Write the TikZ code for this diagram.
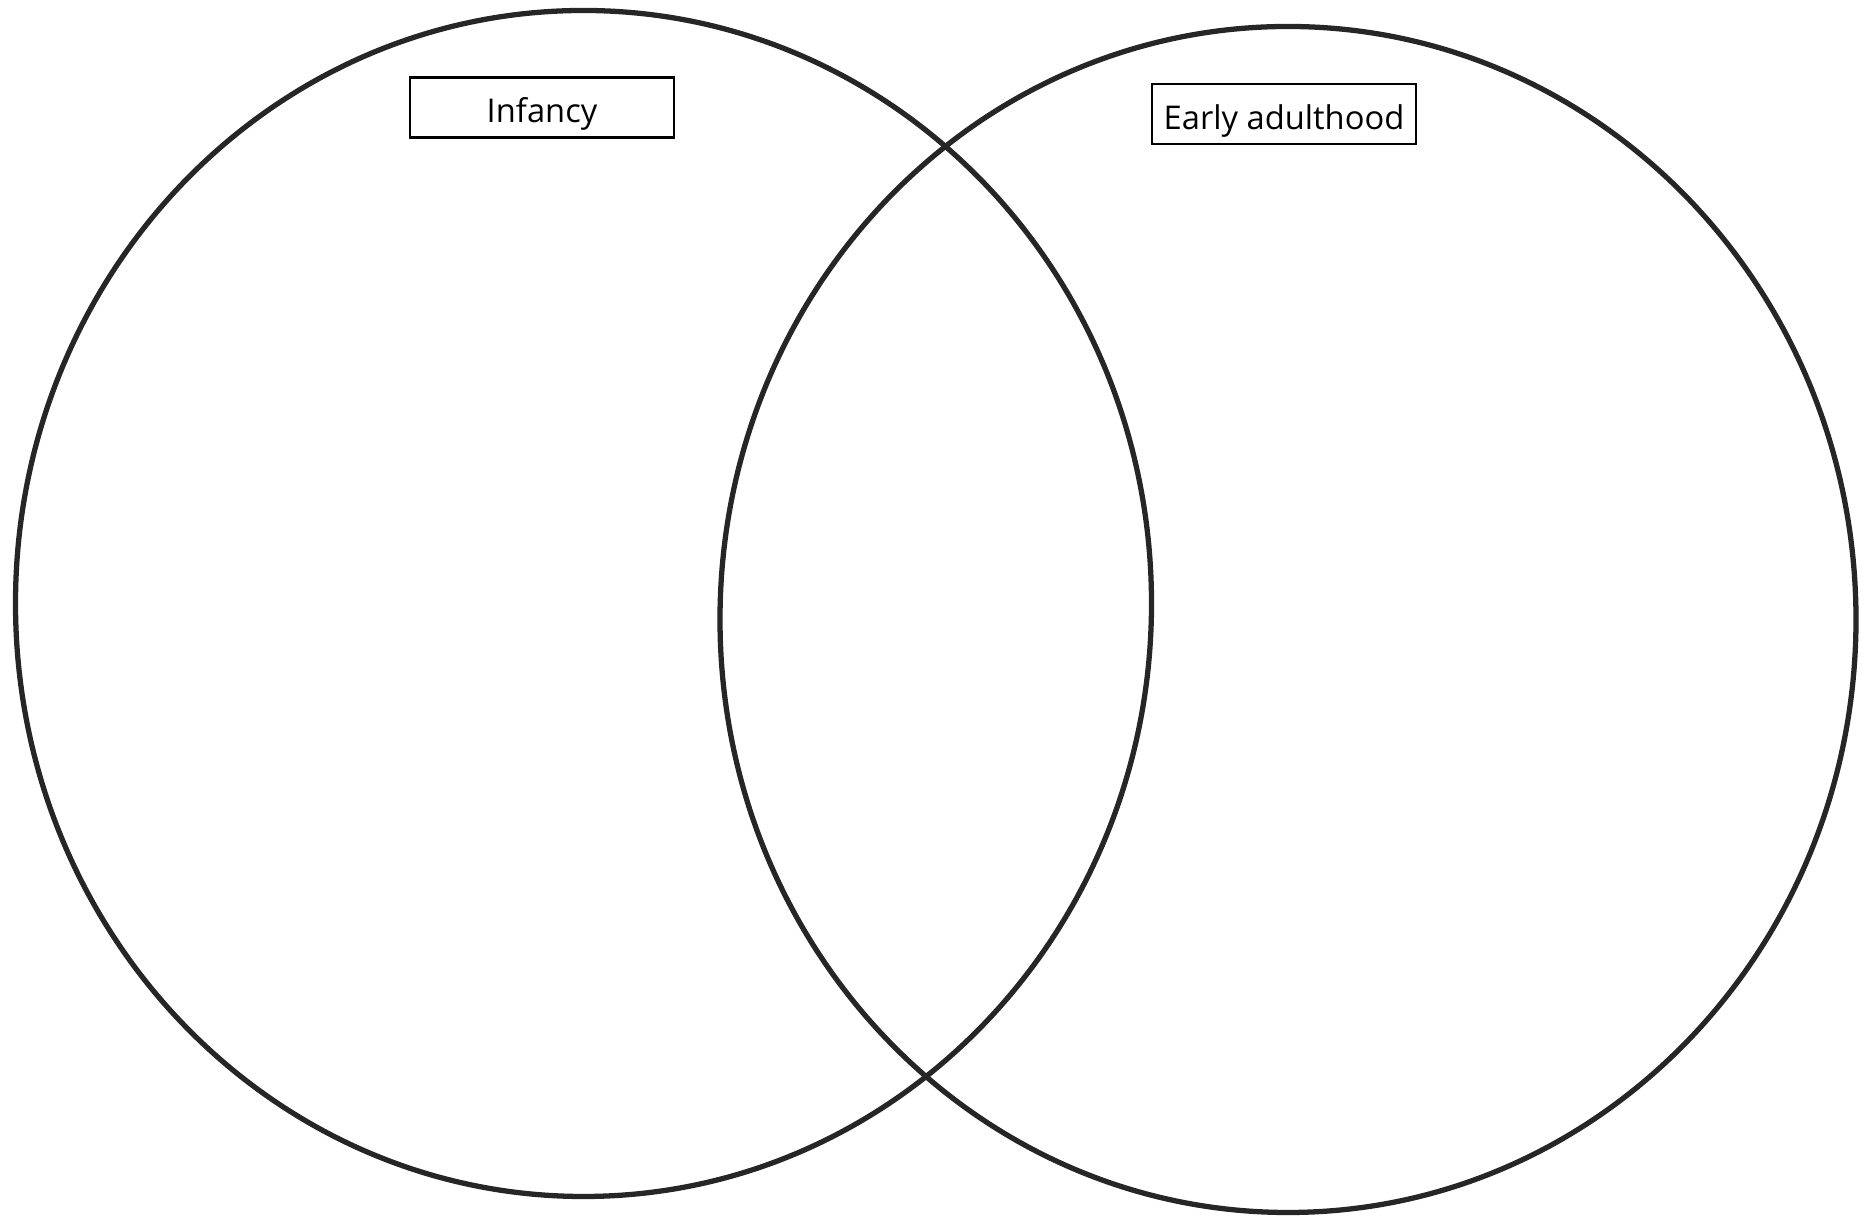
\documentclass[tikz,border=0pt]{standalone}
\usepackage{fontspec}
\setmainfont{Open Sans}
\usepackage{tikz}
\usetikzlibrary{shapes.geometric,positioning}

\begin{document}
\begin{tikzpicture}[font=\fontsize{9.3}{11}\selectfont,
          every node/.style={align=center},
          ring/.style={draw=black!85, line width=1.5pt},
          tag/.style={draw=black, line width=0.6pt, minimum width=2.64cm,
                      minimum height=0.6cm, inner sep=0pt,
                      text height=1.9ex, text depth=0.3ex}]
          % Venn diagram frame
          \useasboundingbox (0,0) rectangle (18.76,12.19);
          \def\rx{5.68cm}
          \def\ry{5.93cm}
          \node[ring, ellipse, minimum width=2*\rx, minimum height=2*\ry,
                inner sep=0pt] (left) at (5.835,6.155) {};
          \node[ring, ellipse, minimum width=2*\rx, minimum height=2*\ry,
                inner sep=0pt] (right) at (12.88,5.995) {};
          \node[tag] (infancy) at (5.42,11.115) {Infancy};
          \node[tag] (adult) at (12.84,11.05) {Early adulthood};
        \end{tikzpicture}
\end{document}
